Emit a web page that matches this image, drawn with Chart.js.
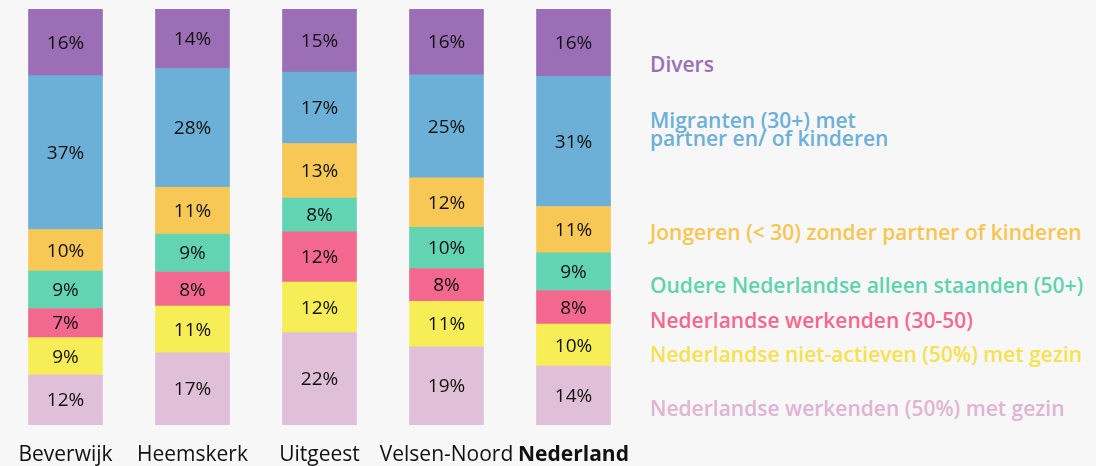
<!DOCTYPE html>
<html>
<head>
<meta charset="utf-8">
<script src="https://cdn.jsdelivr.net/npm/chart.js@4"></script>
<style>
  html, body { margin: 0; padding: 0; background: #f7f7f7; }
  #wrap { position: relative; width: 1096px; height: 466px; overflow: hidden; }
  #chart { position: absolute; left: 0; top: 0; }
  .lg { position: absolute; left: 650px; font-family: "Open Sans", sans-serif; font-size: 21px;
        font-weight: 600; line-height: 18px; white-space: nowrap; transform: translateY(-50%); }
</style>
</head>
<body>
<div id="wrap">
  <canvas id="chart" width="640" height="466"></canvas>
  <div id="legend"></div>
</div>
<script>
"use strict";

const categories = ['Beverwijk', 'Heemskerk', 'Uitgeest', 'Velsen-Noord', 'Nederland'];

// stacked bottom -> top
const werkenden50 = [12, 17, 22, 19, 14];
const nietActieven = [9, 11, 12, 11, 10];
const werkenden3050 = [7, 8, 12, 8, 8];
const oudere = [9, 9, 8, 10, 9];
const jongeren = [10, 11, 13, 12, 11];
const migranten = [37, 28, 17, 25, 31];
const divers = [16, 14, 15, 16, 16];

const series = [
  { label: 'Nederlandse werkenden (50%) met gezin', values: werkenden50, color: '#e0c0d8', text: '#e0b4d4', y: 408 },
  { label: 'Nederlandse niet-actieven (50%) met gezin', values: nietActieven, color: '#f7ed57', text: '#f5e24e', y: 354 },
  { label: 'Nederlandse werkenden (30-50)', values: werkenden3050, color: '#f3688e', text: '#f3688e', y: 320 },
  { label: 'Oudere Nederlandse alleen staanden (50+)', values: oudere, color: '#62d4b1', text: '#5fd3af', y: 285 },
  { label: 'Jongeren (< 30) zonder partner of kinderen', values: jongeren, color: '#f7c855', text: '#f7c650', y: 232 },
  { label: 'Migranten (30+) met\npartner en/ of kinderen', values: migranten, color: '#6cb0d7', text: '#6cb0d7', y: 129 },
  { label: 'Divers', values: divers, color: '#9b6eb6', text: '#9b6eb6', y: 64 }
];

// each bar fills 100%: scale by its column total
const totals = categories.map((c, i) => series.reduce((s, d) => s + d.values[i], 0));

const valueLabels = {
  id: 'valueLabels',
  afterDatasetsDraw(chart) {
    const ctx = chart.ctx;
    ctx.save();
    ctx.fillStyle = '#111';
    ctx.font = '19px "Open Sans", sans-serif';
    ctx.textAlign = 'center';
    ctx.textBaseline = 'middle';
    chart.data.datasets.forEach((ds, di) => {
      chart.getDatasetMeta(di).data.forEach((bar, i) => {
        const p = bar.getProps(['x', 'y', 'base'], true);
        ctx.fillText(ds.raw[i] + '%', p.x, (p.y + p.base) / 2 + 1);
      });
    });
    ctx.restore();
  }
};

new Chart(document.getElementById('chart'), {
  type: 'bar',
  data: {
    labels: categories,
    datasets: series.map(s => ({
      label: s.label,
      raw: s.values,
      data: s.values.map((v, i) => v / totals[i] * 100),
      backgroundColor: s.color,
      borderWidth: 0
    }))
  },
  options: {
    responsive: false,
    animation: false,
    layout: { padding: { top: 9, left: 2, right: 3, bottom: 0 } },
    plugins: { legend: { display: false }, tooltip: { enabled: false } },
    datasets: { bar: { barThickness: 74 } },
    scales: {
      x: {
        stacked: true,
        grid: { display: false },
        border: { display: false },
        afterFit: s => { s.height = 41; },
        ticks: {
          padding: 9,
          color: '#111',
          maxRotation: 0,
          minRotation: 0,
          autoSkip: false,
          font: ctx => ({ family: '"Open Sans", sans-serif', size: 21, weight: ctx.index === 4 ? 'bold' : 'normal' })
        }
      },
      y: { stacked: true, display: false, min: 0, max: 100 }
    }
  },
  plugins: [valueLabels]
});

const legend = document.getElementById('legend');
series.forEach(s => {
  const d = document.createElement('div');
  d.className = 'lg';
  d.style.top = s.y + 'px';
  d.style.color = s.text;
  d.innerHTML = s.label.replace(/&/g, '&amp;').replace(/</g, '&lt;').replace('\n', '<br>');
  legend.appendChild(d);
});
</script>
</body>
</html>
